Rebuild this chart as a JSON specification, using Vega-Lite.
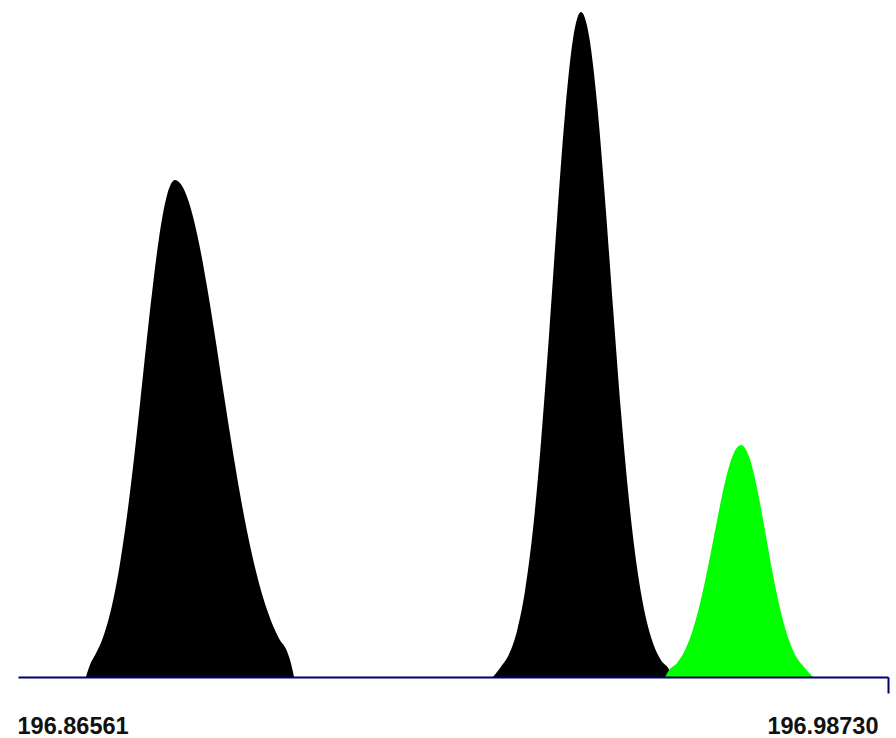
{
  "$schema": "https://vega.github.io/schema/vega-lite/v6.json",
  "width": 870,
  "height": 677,
  "autosize": "none",
  "padding": {"left": 18, "top": 0, "right": 8, "bottom": 61},
  "background": "white",
  "view": {"stroke": null},
  "config": {"font": "Liberation Sans"},
  "data": {"values": [
    {"peak": "p1", "mz": 196.87512, "intensity": 0},
    {"peak": "p1", "mz": 196.87582, "intensity": 2.2},
    {"peak": "p1", "mz": 196.87638, "intensity": 3.28},
    {"peak": "p1", "mz": 196.87750, "intensity": 5.95},
    {"peak": "p1", "mz": 196.87862, "intensity": 10.11},
    {"peak": "p1", "mz": 196.87974, "intensity": 16.17},
    {"peak": "p1", "mz": 196.88086, "intensity": 24.27},
    {"peak": "p1", "mz": 196.88198, "intensity": 34.22},
    {"peak": "p1", "mz": 196.88309, "intensity": 45.33},
    {"peak": "p1", "mz": 196.88421, "intensity": 56.41},
    {"peak": "p1", "mz": 196.88533, "intensity": 65.96},
    {"peak": "p1", "mz": 196.88645, "intensity": 72.44},
    {"peak": "p1", "mz": 196.88757, "intensity": 74.74},
    {"peak": "p1", "mz": 196.88869, "intensity": 73.62},
    {"peak": "p1", "mz": 196.88981, "intensity": 70.35},
    {"peak": "p1", "mz": 196.89093, "intensity": 65.23},
    {"peak": "p1", "mz": 196.89205, "intensity": 58.68},
    {"peak": "p1", "mz": 196.89317, "intensity": 51.21},
    {"peak": "p1", "mz": 196.89428, "intensity": 43.36},
    {"peak": "p1", "mz": 196.89540, "intensity": 35.62},
    {"peak": "p1", "mz": 196.89652, "intensity": 28.39},
    {"peak": "p1", "mz": 196.89764, "intensity": 21.96},
    {"peak": "p1", "mz": 196.89876, "intensity": 16.47},
    {"peak": "p1", "mz": 196.89988, "intensity": 11.99},
    {"peak": "p1", "mz": 196.90100, "intensity": 8.47},
    {"peak": "p1", "mz": 196.90212, "intensity": 5.80},
    {"peak": "p1", "mz": 196.90324, "intensity": 3.86},
    {"peak": "p1", "mz": 196.90380, "intensity": 2.0},
    {"peak": "p1", "mz": 196.90422, "intensity": 0},
    {"peak": "p2", "mz": 196.93205, "intensity": 0},
    {"peak": "p2", "mz": 196.93317, "intensity": 1.54},
    {"peak": "p2", "mz": 196.93429, "intensity": 3.41},
    {"peak": "p2", "mz": 196.93541, "intensity": 6.93},
    {"peak": "p2", "mz": 196.93653, "intensity": 12.96},
    {"peak": "p2", "mz": 196.93765, "intensity": 22.29},
    {"peak": "p2", "mz": 196.93876, "intensity": 35.25},
    {"peak": "p2", "mz": 196.93988, "intensity": 51.31},
    {"peak": "p2", "mz": 196.94100, "intensity": 68.71},
    {"peak": "p2", "mz": 196.94212, "intensity": 84.64},
    {"peak": "p2", "mz": 196.94324, "intensity": 95.92},
    {"peak": "p2", "mz": 196.94436, "intensity": 100},
    {"peak": "p2", "mz": 196.94548, "intensity": 96.39},
    {"peak": "p2", "mz": 196.94660, "intensity": 86.32},
    {"peak": "p2", "mz": 196.94772, "intensity": 71.82},
    {"peak": "p2", "mz": 196.94884, "intensity": 55.53},
    {"peak": "p2", "mz": 196.94995, "intensity": 39.88},
    {"peak": "p2", "mz": 196.95107, "intensity": 26.61},
    {"peak": "p2", "mz": 196.95219, "intensity": 16.50},
    {"peak": "p2", "mz": 196.95331, "intensity": 9.50},
    {"peak": "p2", "mz": 196.95443, "intensity": 5.09},
    {"peak": "p2", "mz": 196.95555, "intensity": 2.53},
    {"peak": "p2", "mz": 196.95667, "intensity": 1.17},
    {"peak": "p2", "mz": 196.95723, "intensity": 0},
    {"peak": "p3", "mz": 196.95611, "intensity": 0},
    {"peak": "p3", "mz": 196.95667, "intensity": 1.00},
    {"peak": "p3", "mz": 196.95779, "intensity": 2.10},
    {"peak": "p3", "mz": 196.95891, "intensity": 4.06},
    {"peak": "p3", "mz": 196.96003, "intensity": 7.18},
    {"peak": "p3", "mz": 196.96114, "intensity": 11.65},
    {"peak": "p3", "mz": 196.96226, "intensity": 17.29},
    {"peak": "p3", "mz": 196.96338, "intensity": 23.50},
    {"peak": "p3", "mz": 196.96450, "intensity": 29.27},
    {"peak": "p3", "mz": 196.96562, "intensity": 33.39},
    {"peak": "p3", "mz": 196.96674, "intensity": 34.89},
    {"peak": "p3", "mz": 196.96786, "intensity": 33.15},
    {"peak": "p3", "mz": 196.96898, "intensity": 28.43},
    {"peak": "p3", "mz": 196.97010, "intensity": 22.01},
    {"peak": "p3", "mz": 196.97121, "intensity": 15.38},
    {"peak": "p3", "mz": 196.97233, "intensity": 9.70},
    {"peak": "p3", "mz": 196.97345, "intensity": 5.52},
    {"peak": "p3", "mz": 196.97457, "intensity": 2.84},
    {"peak": "p3", "mz": 196.97569, "intensity": 1.32},
    {"peak": "p3", "mz": 196.97681, "intensity": 0}
  ]},
  "mark": {"type": "area", "interpolate": "monotone", "opacity": 1},
  "encoding": {
    "x": {
      "field": "mz",
      "type": "quantitative",
      "scale": {"domain": [196.86561, 196.9873], "nice": false, "zero": false},
      "axis": {
        "title": null,
        "values": [196.86561, 196.9873],
        "format": ".5f",
        "grid": false,
        "zindex": 1,
        "domainColor": "#000070",
        "domainWidth": 2,
        "ticks": true,
        "tickColor": "#000070",
        "tickWidth": 2,
        "tickSize": 16,
        "tickOpacity": {"condition": {"test": "datum.value > 196.9", "value": 1}, "value": 0},
        "labelAlign": {"condition": {"test": "datum.value > 196.9", "value": "right"}, "value": "left"},
        "labelOffset": {"condition": {"test": "datum.value > 196.9", "value": -10}, "value": -1},
        "labelBaseline": "alphabetic",
        "labelPadding": 40,
        "labelOverlap": false,
        "labelBound": false,
        "labelFont": "Liberation Sans",
        "labelFontWeight": "bold",
        "labelFontSize": 23.5,
        "labelColor": "#111111"
      }
    },
    "y": {
      "field": "intensity",
      "type": "quantitative",
      "stack": null,
      "scale": {"domain": [0, 101.8], "nice": false, "zero": true},
      "axis": null
    },
    "color": {
      "field": "peak",
      "type": "nominal",
      "scale": {"domain": ["p1", "p2", "p3"], "range": ["#000000", "#000000", "#00ff00"]},
      "legend": null
    }
  }
}
